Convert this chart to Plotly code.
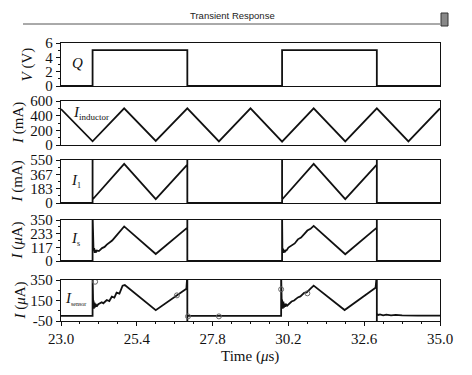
import plotly.graph_objects as go

W, H = 472, 375

# ---------------- data ----------------
# Q gate voltage (V)
q_t = [23.0, 24.0, 24.0, 27.0, 27.0, 30.0, 30.0, 33.0, 33.0, 35.0]
q_v = [0, 0, 5, 5, 0, 0, 5, 5, 0, 0]

# inductor current (mA)
ind_t = [23, 24, 25, 26, 27, 28, 29, 30, 31, 32, 33, 34, 35]
ind_i = [490, 50, 500, 55, 500, 50, 500, 45, 500, 50, 500, 50, 500]

# I1 current (mA)
i1_t = [23, 24, 24, 24, 25, 26, 27, 27, 27, 30, 30, 30, 31, 32, 33, 33, 33, 35]
i1_i = [0, 0, 600, 45, 500, 50, 490, 600, 0, 0, 600, 45, 500, 50, 490, 600, 0, 0]

# Is current (uA)
is_t = [23, 24.0, 24.0, 24.01, 24.03, 24.05, 24.07, 24.09, 24.11, 24.14, 24.2,
        24.3, 24.38, 24.45, 24.55, 24.62, 24.7, 24.8, 24.9, 25.0, 26.0, 27.0, 27.0, 27.0,
        30.0, 30.0, 30.0, 30.01, 30.03, 30.05, 30.07, 30.09, 30.11, 30.14, 30.2,
        30.3, 30.4, 30.5, 30.6, 30.7, 30.8, 30.9, 31.0, 32.0, 33.0, 33.0, 33.0, 35.0]
is_i = [0, 0, 400, 130, 90, 110, 70, 95, 75, 90, 85,
        110, 120, 140, 160, 175, 200, 235, 260, 295, 60, 285, 400, 0,
        0, 400, 130, 85, 105, 70, 95, 75, 90, 90,
        115, 135, 150, 185, 200, 230, 260, 275, 300, 58, 285, 400, 0, 0]

# Isensor current (uA)
sen_t = [23, 24.0, 24.0, 24.01, 24.02, 24.03, 24.04, 24.06, 24.07, 24.09, 24.11, 24.13, 24.15,
         24.18, 24.29, 24.34, 24.45, 24.53, 24.61, 24.69, 24.76, 24.85, 24.95, 25.02,
         26.0, 26.97, 27.0, 27.0, 27.0,
         29.97, 29.97, 29.98, 29.99, 30.0, 30.02, 30.04, 30.06, 30.08, 30.1, 30.13, 30.16,
         30.3, 30.38, 30.5, 30.58, 30.7, 30.78, 30.9, 31.0,
         31.98, 32.96, 33.0, 33.0, 33.0, 33.05, 33.1, 33.2, 33.3, 33.45, 33.6, 33.8,
         34.0, 34.3, 35.0]
sen_i = [0, 0, 400, 180, 90, 150, 70, 130, 80, 120, 90, 110, 100,
         113, 133, 123, 155, 145, 188, 178, 226, 217, 295, 301,
         55, 265, 400, -60, 0,
         0, 400, 200, 110, 160, 70, 140, 80, 120, 90, 110, 100,
         140, 150, 180, 190, 225, 230, 265, 295,
         57, 275, 400, -60, 20, 8, 15, 6, 12, 5, 9, 4,
         6, 2, 2]

# measurement circles on Isensor
mk_t = [24.08, 26.67, 27.02, 28.0, 29.97, 30.8]
mk_v = [333, 200, -5, -5, 259, 220]

x_ticks = [23.0, 25.4, 27.8, 30.2, 32.6, 35.0]
x_ticktext = ["23.0", "25.4", "27.8", "30.2", "32.6", "35.0"]
x_minor = [23.6, 24.2, 24.8, 26.0, 26.6, 27.2, 28.4, 29.0, 29.6, 30.8, 31.4, 32.0, 33.2, 33.8, 34.4]

y_ranges = [[0, 6], [0, 600], [0, 550], [0, 350], [-50, 350]]
y_ticks = [[0, 2, 4, 6], [0, 200, 400, 600], [0, 183, 367, 550], [0, 117, 233, 350], [-50, 150, 350]]
y_minor = [[1, 3, 5], [100, 300, 500], [92, 275, 458], [58, 175, 292], [50, 250]]
y_titles = ["<i>V</i> (V)", "<i>I</i> (mA)", "<i>I</i> (mA)", "<i>I</i> (<i>μ</i>A)", "<i>I</i> (<i>μ</i>A)"]

# ---------------- layout geometry (pixels) ----------------
px_left, px_right = 61, 440
panels_px = [(43, 86), (101, 145), (160, 203), (220, 261), (280, 321)]


def fx(p):
    return p / W


def fy(p):
    return 1 - p / H


serif = "Liberation Serif"
fig = go.Figure()

series = [(q_t, q_v), (ind_t, ind_i), (i1_t, i1_i), (is_t, is_i), (sen_t, sen_i)]
for k, (t, v) in enumerate(series):
    sfx = "" if k == 0 else str(k + 1)
    fig.add_trace(go.Scatter(x=t, y=v, mode="lines", line=dict(color="#111", width=1.8),
                             xaxis="x" + sfx, yaxis="y" + sfx, showlegend=False, hoverinfo="skip"))

fig.add_trace(go.Scatter(x=mk_t, y=mk_v, mode="markers",
                         marker=dict(symbol="circle-open", size=5, color="#666", line=dict(width=1)),
                         xaxis="x5", yaxis="y5", showlegend=False, hoverinfo="skip"))

layout = dict(width=W, height=H, margin=dict(l=0, r=0, t=0, b=0, pad=0, autoexpand=False),
              paper_bgcolor="white", plot_bgcolor="white", showlegend=False)

for k in range(5):
    sfx = "" if k == 0 else str(k + 1)
    top, bot = panels_px[k]
    last = (k == 4)
    xa = dict(
        domain=[fx(px_left), fx(px_right)], anchor="y" + sfx, range=[23, 35],
        showline=True, mirror=True, linecolor="#111", linewidth=1.2,
        showgrid=False, zeroline=False, automargin=False,
    )
    if last:
        xa.update(tickmode="array", tickvals=x_ticks, ticktext=x_ticktext,
                  ticks="outside", ticklen=4, tickwidth=1, tickcolor="#111",
                  tickfont=dict(family=serif, size=15, color="#111"),
                  minor=dict(tickvals=x_minor, ticks="outside", ticklen=2, tickcolor="#111"))
    else:
        xa.update(showticklabels=False, ticks="", tickmode="array", tickvals=[])
    layout["xaxis" + sfx] = xa
    layout["yaxis" + sfx] = dict(
        domain=[fy(bot), fy(top)], anchor="x" + sfx, range=y_ranges[k],
        showline=True, mirror=True, linecolor="#111", linewidth=1.2,
        showgrid=False, zeroline=False, automargin=False,
        tickmode="array", tickvals=y_ticks[k], ticktext=[str(v) for v in y_ticks[k]],
        ticks="outside", ticklen=4, tickwidth=1, tickcolor="#111",
        tickfont=dict(family=serif, size=15, color="#111"),
        minor=dict(tickvals=y_minor[k], ticks="outside", ticklen=2, tickcolor="#111"),
    )

fig.update_layout(**layout)

ann = []
title_x = [27, 18, 17, 17, 20]
for k in range(5):
    top, bot = panels_px[k]
    ann.append(dict(x=fx(title_x[k]), y=fy((top + bot) / 2), xref="paper", yref="paper",
                    text=y_titles[k], textangle=-90, showarrow=False,
                    font=dict(family=serif, size=15, color="#111"), xanchor="center", yanchor="middle"))

ann.append(dict(x=fx(250), y=fy(356), xref="paper", yref="paper", text="Time (<i>μ</i>s)",
                showarrow=False, font=dict(family=serif, size=15, color="#111"),
                xanchor="center", yanchor="middle"))
ann.append(dict(x=fx(232), y=fy(15), xref="paper", yref="paper", text="Transient Response",
                showarrow=False, font=dict(family="Liberation Sans", size=9.5, color="#222"),
                xanchor="center", yanchor="middle"))

inner = [
    (70, 63, "<i>Q</i>"),
    (71, 113, "<i>I</i><sub><span style='font-size:9px'>inductor</span></sub>"),
    (69, 181, "<i>I</i><sub><span style='font-size:8px'>1</span></sub>"),
    (69, 239, "<i>I</i><sub><span style='font-size:8px'>s</span></sub>"),
    (63, 298, "<i>I</i><sub><span style='font-size:6px'>sensor</span></sub>"),
]
for x, y, txt in inner:
    ann.append(dict(x=fx(x), y=fy(y), xref="paper", yref="paper", text=txt, showarrow=False,
                    font=dict(family=serif, size=15, color="#111"), xanchor="left", yanchor="middle"))

fig.update_layout(annotations=ann)

fig.update_layout(shapes=[
    dict(type="line", xref="paper", yref="paper", x0=fx(23), x1=fx(440), y0=fy(24), y1=fy(24),
         line=dict(color="#555", width=1)),
    dict(type="rect", xref="paper", yref="paper", x0=fx(441), x1=fx(448), y0=fy(26), y1=fy(13),
         fillcolor="#888", line=dict(color="#333", width=1)),
])

fig.write_html("out.html", config={"displayModeBar": False, "staticPlot": True},
               post_script="document.body.style.margin='0px';document.body.style.overflow='hidden';")
